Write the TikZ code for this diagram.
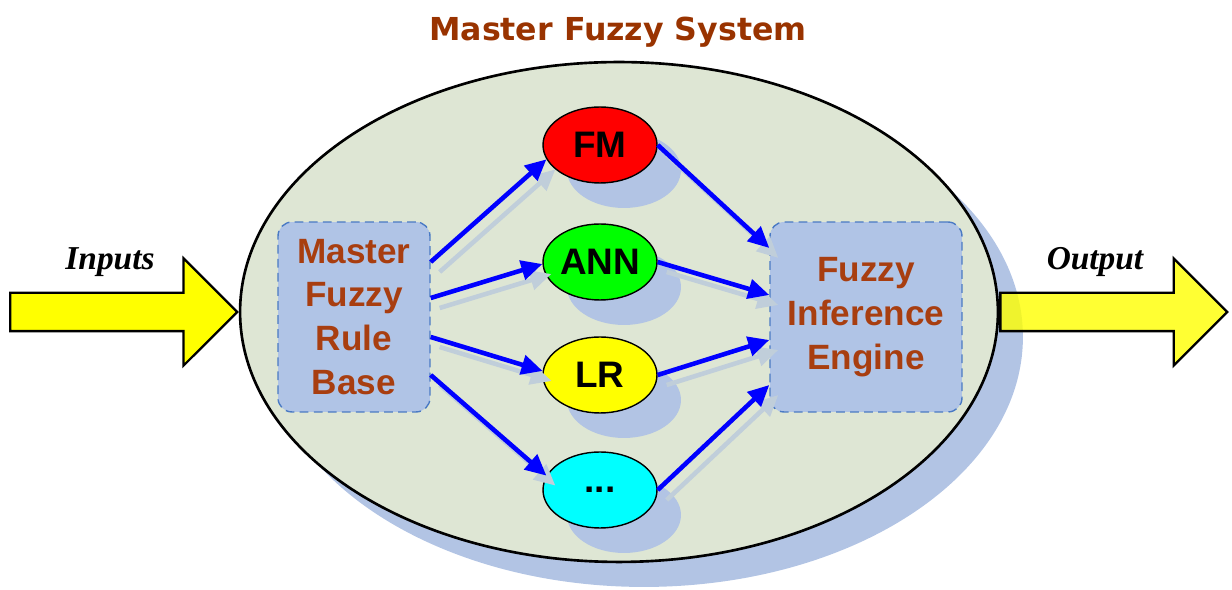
\documentclass[tikz,border=0pt]{standalone}
\usepackage{fontspec}
\setmainfont{Liberation Sans}
\newfontfamily\titlefont{DejaVu Sans}
\newfontfamily\labelfont{Liberation Serif}
\usetikzlibrary{shapes.geometric,shapes.arrows,arrows.meta,calc,shadows}
\definecolor{sysfill}{RGB}{222,230,212}
\definecolor{shade}{RGB}{178,196,228}
\definecolor{boxfill}{RGB}{176,196,230}
\definecolor{boxline}{RGB}{74,122,196}
\definecolor{rust}{RGB}{168,62,16}
\definecolor{titlebrown}{RGB}{153,51,0}
\definecolor{ghost}{RGB}{192,206,218}
\definecolor{fmred}{RGB}{255,0,0}
\definecolor{anngreen}{RGB}{0,255,0}
\definecolor{lryellow}{RGB}{255,255,0}
\definecolor{morecyan}{RGB}{0,255,255}
\tikzset{
  sysell/.style={draw,ellipse,line width=1.5pt,fill=sysfill,minimum width=15.16cm,minimum height=10cm,
    drop shadow={shadow xshift=0.5cm,shadow yshift=-0.5cm,fill=shade,opacity=1}},
  rule/.style={draw=boxline,line width=0.8pt,dash pattern=on 5pt off 3pt,fill=boxfill,rounded corners=8pt,align=center,text=rust,
    font=\fontsize{20}{25}\selectfont\bfseries,minimum height=3.8cm,inner sep=2pt},
  model/.style={draw,ellipse,thick,minimum width=2.28cm,minimum height=1.52cm,inner sep=0pt,
    font=\fontsize{21}{25}\selectfont\bfseries,
    drop shadow={shadow xshift=0.48cm,shadow yshift=-0.5cm,fill=shade,opacity=1}},
  yarrow/.style={draw,single arrow,line width=1.3pt,fill=lryellow,minimum height=4.54cm,
    inner xsep=0pt,inner ysep=0.36cm,single arrow head extend=0.69cm},
  link/.style={-{Triangle[length=12pt,width=11pt]},line width=2.6pt,blue},
  ghostlink/.style={link,draw=ghost,fill=ghost,transform canvas={shift={(0.18cm,-0.2cm)}}},
  io/.style={font=\labelfont\fontsize{19}{22}\selectfont\bfseries\itshape}
}
\begin{document}
\begin{tikzpicture}[x=0.02cm,y=-0.02cm]
\useasboundingbox (0,0) rectangle (1232,590);
\node[font=\titlefont\fontsize{18}{22}\selectfont\bfseries,text=titlebrown] (title) at (618,32) {Master Fuzzy System};
\node[sysell] (sys) at (619,312) {};
\node[yarrow,anchor=tip] (inp) at (sys.west) {};
\node[yarrow,anchor=tail,fill opacity=0.8] (outp) at (sys.east) {};
\node[io] (inlbl) at (110,262) {Inputs};
\node[io] (outlbl) at (1095,262) {Output};
\node[rule,minimum width=3.04cm] (mfrb) at (354,317) {Master\\Fuzzy\\Rule\\Base};
\node[rule,minimum width=3.84cm] (fie) at (866,317) {Fuzzy\\Inference\\Engine};
\node[model,fill=fmred] (fm) at (600,145) {FM};
\node[model,fill=anngreen] (ann) at (600,262) {ANN};
\node[model,fill=lryellow] (lr) at (600,375) {LR};
\node[model,fill=morecyan] (more) at (600,490) {...};
\foreach \m/\dy/\ang in {fm/-55/195, ann/-19/182, lr/20/176, more/58/165} {
  \draw[ghostlink] ($(mfrb.east)+(0,\dy)$) -- (\m.\ang);
  \draw[link] ($(mfrb.east)+(0,\dy)$) -- (\m.\ang);
}
\foreach \m/\dy in {fm/-69, ann/-22, lr/23, more/68} {
  \draw[ghostlink] (\m.east) -- ($(fie.west)+(0,\dy)$);
  \draw[link] (\m.east) -- ($(fie.west)+(0,\dy)$);
}
\end{tikzpicture}
\end{document}
